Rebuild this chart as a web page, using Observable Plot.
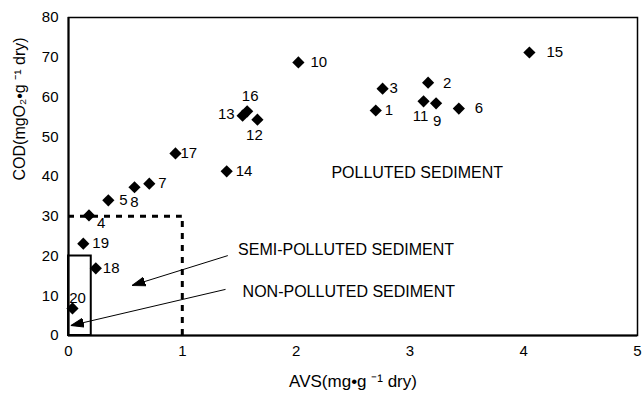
<!DOCTYPE html>
<html>
<head>
<meta charset="utf-8">
<script src="https://cdn.jsdelivr.net/npm/d3@7"></script>
<script src="https://cdn.jsdelivr.net/npm/@observablehq/plot@0.6"></script>
<style>
  html, body { margin: 0; padding: 0; background: #fff; }
  svg { display: block; }
</style>
</head>
<body>
<div id="chart"></div>
<script>
// Sample station ids, AVS (mg/g dry) and COD (mgO2/g dry)
const stations = ["1","2","3","4","5","6","7","8","9","10","11","12","13","14","15","16","17","18","19","20"];
const avs = [2.70, 3.16, 2.76, 0.18, 0.35, 3.43, 0.71, 0.58, 3.23, 2.02, 3.12, 1.66, 1.53, 1.39, 4.05, 1.57, 0.94, 0.24, 0.13, 0.035];
const cod = [56.6, 63.6, 62.1, 30.2, 34.0, 57.1, 38.2, 37.3, 58.4, 68.7, 58.9, 54.3, 55.3, 41.3, 71.2, 56.4, 45.8, 16.9, 23.1, 6.8];

// Threshold boxes
const nonLimit = {avs: 0.2, cod: 20};
const semiLimit = {avs: 1, cod: 30};

// Annotations
const zoneLabels = ["POLLUTED SEDIMENT", "SEMI-POLLUTED SEDIMENT", "NON-POLLUTED SEDIMENT"];
const zoneAvs = [2.31, 1.49, 1.53];
const zoneCod = [40.8, 21.6, 11.1];
const arrowFromAvs = [1.40, 1.38];
const arrowFromCod = [20.1, 11.6];
const arrowToAvs = [0.56, 0.02];
const arrowToCod = [12.6, 2.5];

const xTicks = [0, 1, 2, 3, 4, 5];
const yTicks = [0, 10, 20, 30, 40, 50, 60, 70, 80];
const xTitle = "AVS(mg\u2022g \u207B\u00B9 dry)";
const yTitle = "COD(mgO\u2082\u2022g \u207B\u00B9 dry)";

const points = stations.map((id, i) => ({id, avs: avs[i], cod: cod[i]}));
const zones = zoneLabels.map((t, i) => ({t, avs: zoneAvs[i], cod: zoneCod[i]}));
const arrows = arrowFromAvs.map((a, i) => ({x1: a, y1: arrowFromCod[i], x2: arrowToAvs[i], y2: arrowToCod[i]}));

// label nudges (pixels) : [dx, dy, anchor]
const nudge = {
  "1": [9, 0, "start"], "2": [15, 0, "start"], "3": [7, 0, "start"],
  "4": [8, 8, "start"], "5": [11, 0, "start"], "6": [16, 0, "start"],
  "7": [9, 0, "start"], "8": [0, 15, "middle"], "9": [1, 18, "middle"],
  "10": [12, 0, "start"], "11": [-3, 15, "middle"], "12": [-3, 16, "middle"],
  "13": [-8, -1, "end"], "14": [9, 0, "start"], "15": [17, 0, "start"],
  "16": [3, -15, "middle"], "17": [5, 0, "start"], "18": [7, 0, "start"],
  "19": [9, 0, "start"], "20": [5, -10, "middle"]
};

const filledArrow = (color, context) => {
  const doc = context.document;
  const ns = "http://www.w3.org/2000/svg";
  const m = doc.createElementNS(ns, "marker");
  m.setAttribute("viewBox", "-13 -5 13 10");
  m.setAttribute("markerWidth", 13);
  m.setAttribute("markerHeight", 10);
  m.setAttribute("markerUnits", "userSpaceOnUse");
  m.setAttribute("orient", "auto");
  m.setAttribute("refX", 0);
  m.setAttribute("refY", 0);
  const p = doc.createElementNS(ns, "path");
  p.setAttribute("d", "M0,0L-13,-4.5L-13,4.5Z");
  p.setAttribute("fill", color);
  m.appendChild(p);
  return m;
};

const pointLabels = points.map(d => Plot.text([d], {
  x: "avs", y: "cod", text: "id",
  dx: nudge[d.id][0], dy: nudge[d.id][1], textAnchor: nudge[d.id][2],
  fontSize: 15, fill: "black"
}));

const chart = Plot.plot({
  width: 643,
  height: 398,
  marginLeft: 68,
  marginRight: 6,
  marginTop: 17,
  marginBottom: 63,
  style: {fontFamily: "Liberation Sans, Arial, sans-serif", fontSize: "15px", color: "black", background: "white"},
  x: {domain: [0, 5]},
  y: {domain: [0, 80]},
  marks: [
    Plot.axisX({ticks: xTicks, tickSize: 0, tickPadding: 10, tickFormat: d3.format("d"), fontSize: 15, label: null}),
    Plot.axisY({ticks: yTicks, tickSize: 0, tickPadding: 10, tickFormat: d3.format("d"), fontSize: 15, label: null}),
    Plot.text([xTitle], {frameAnchor: "bottom", dy: 51, fontSize: 17, fill: "black"}),
    Plot.text([yTitle], {frameAnchor: "left", dx: -49, dy: 4, rotate: -90, fontSize: 16, fill: "black"}),
    Plot.frame({stroke: "black", strokeWidth: 1.5}),
    Plot.ruleY([semiLimit.cod], {x1: 0, x2: semiLimit.avs, stroke: "black", strokeWidth: 3, strokeDasharray: "6,6"}),
    Plot.ruleX([semiLimit.avs], {y1: 0, y2: semiLimit.cod, stroke: "black", strokeWidth: 3, strokeDasharray: "6,6"}),
    Plot.rect([nonLimit], {x1: 0, x2: "avs", y1: 0, y2: "cod", fill: "none", stroke: "black", strokeWidth: 2}),
    Plot.ruleY([0], {stroke: "black", strokeWidth: 2}),
    Plot.ruleX([0], {stroke: "black", strokeWidth: 2}),
    Plot.link(arrows, {x1: "x1", y1: "y1", x2: "x2", y2: "y2", stroke: "black", strokeWidth: 1, markerEnd: filledArrow}),
    Plot.dot(points, {x: "avs", y: "cod", symbol: "diamond2", r: 5.5, fill: "black", stroke: "none"}),
    ...pointLabels,
    Plot.text(zones, {x: "avs", y: "cod", text: "t", textAnchor: "start", fontSize: 16, fill: "black"})
  ]
});

document.getElementById("chart").appendChild(chart);
</script>
</body>
</html>
